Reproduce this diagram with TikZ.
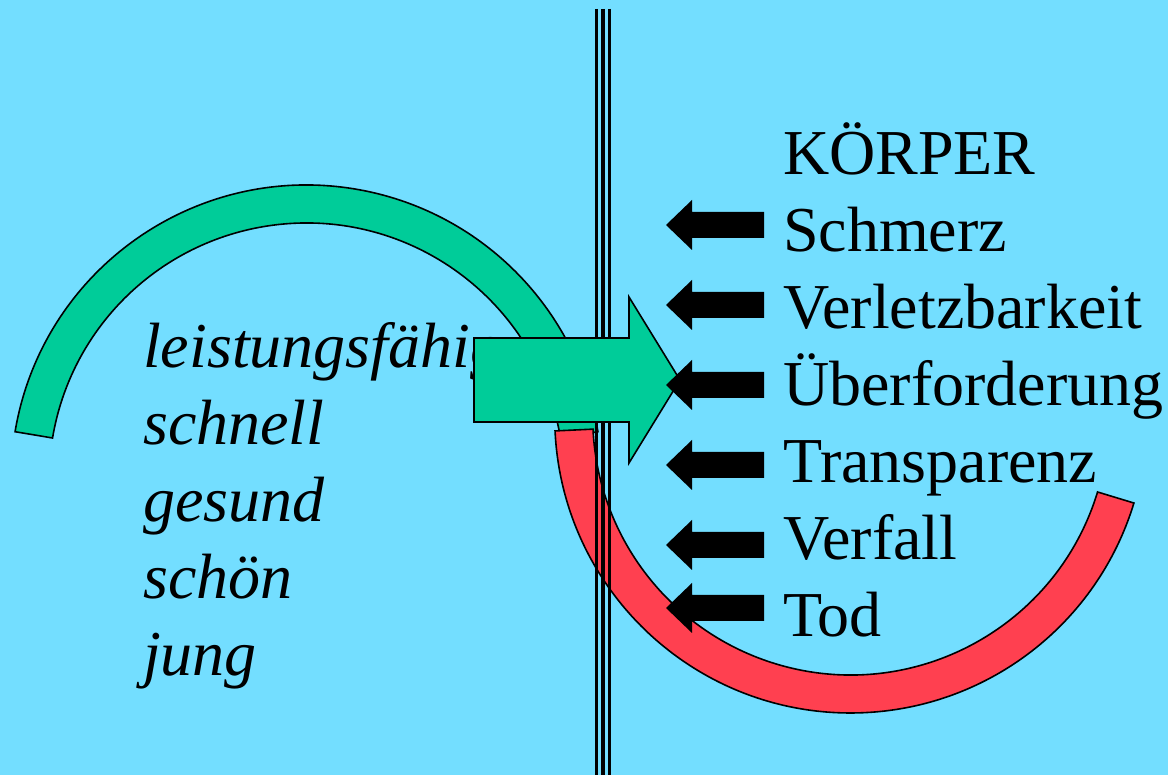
\documentclass[tikz,border=0pt]{standalone}
\usepackage{fontspec}
\setmainfont{Liberation Serif}
\definecolor{bgc}{RGB}{115,222,255}
\definecolor{grn}{RGB}{0,204,153}
\definecolor{rd}{RGB}{255,64,80}
\begin{document}
\begin{tikzpicture}[x=1pt,y=1pt,
  band/.style={draw=black,line width=1.6pt,line join=miter},
  vline/.style={draw=black,line cap=butt},
  txt/.style={anchor=base west,inner sep=0pt,font=\fontsize{64}{64}\selectfont},
  itxt/.style={txt,font=\fontsize{64}{64}\selectfont\itshape},
  blackarrow/.pic={\fill[black] (0,0) -- (26,25) -- (26,13) -- (98,13) -- (98,-13) -- (26,-13) -- (26,-25) -- cycle;}]
\useasboundingbox (0,0) rectangle (1168,775);
\fill[bgc] (0,0) rectangle (1168,775);
% green arc
\coordinate (gc) at (306.5,294.5);
\draw[band,fill=grn] ([shift={(170.5:295.5)}]gc) arc[start angle=170.5,end angle=9.5,radius=295.5]
  -- ([shift={(9.5:257.5)}]gc) arc[start angle=9.5,end angle=170.5,radius=257.5] -- cycle;
% red arc
\coordinate (rc) at (850.7,358);
\draw[band,fill=rd] ([shift={(182.7:296)}]rc) arc[start angle=182.7,end angle=343.1,radius=296]
  -- ([shift={(343.1:258)}]rc) arc[start angle=343.1,end angle=182.7,radius=258] -- cycle;
% left words
\node[itxt] (w1) at (143,407) {leistungsfähig};
\node[itxt] (w2) at (143,330) {schnell};
\node[itxt] (w3) at (143,253) {gesund};
\node[itxt] (w4) at (143,176) {schön};
\node[itxt] (w5) at (143,99) {jung};
% vertical lines
\draw[vline,line width=3pt] (596.5,766) -- (596.5,0);
\draw[vline,line width=4.3pt] (602.8,766) -- (602.8,0);
\draw[vline,line width=3pt] (609.5,766) -- (609.5,0);
% big arrow
\draw[band,fill=grn] (474,437) -- (629,437) -- (629,478) -- (680,395) -- (629,312) -- (629,353) -- (474,353) -- cycle;
% black arrows
\pic at (666,550) {blackarrow};
\pic at (666,470) {blackarrow};
\pic at (666,390) {blackarrow};
\pic at (666,310) {blackarrow};
\pic at (666,230) {blackarrow};
\pic at (666,167) {blackarrow};
% right words
\node[txt] (k0) at (783,600) {KÖRPER};
\node[txt] (k1) at (783,523) {Schmerz};
\node[txt] (k2) at (783,446) {Verletzbarkeit};
\node[txt] (k3) at (783,369) {Überforderung};
\node[txt] (k4) at (783,292) {Transparenz};
\node[txt] (k5) at (783,215) {Verfall};
\node[txt] (k6) at (783,138) {Tod};
\end{tikzpicture}
\end{document}
